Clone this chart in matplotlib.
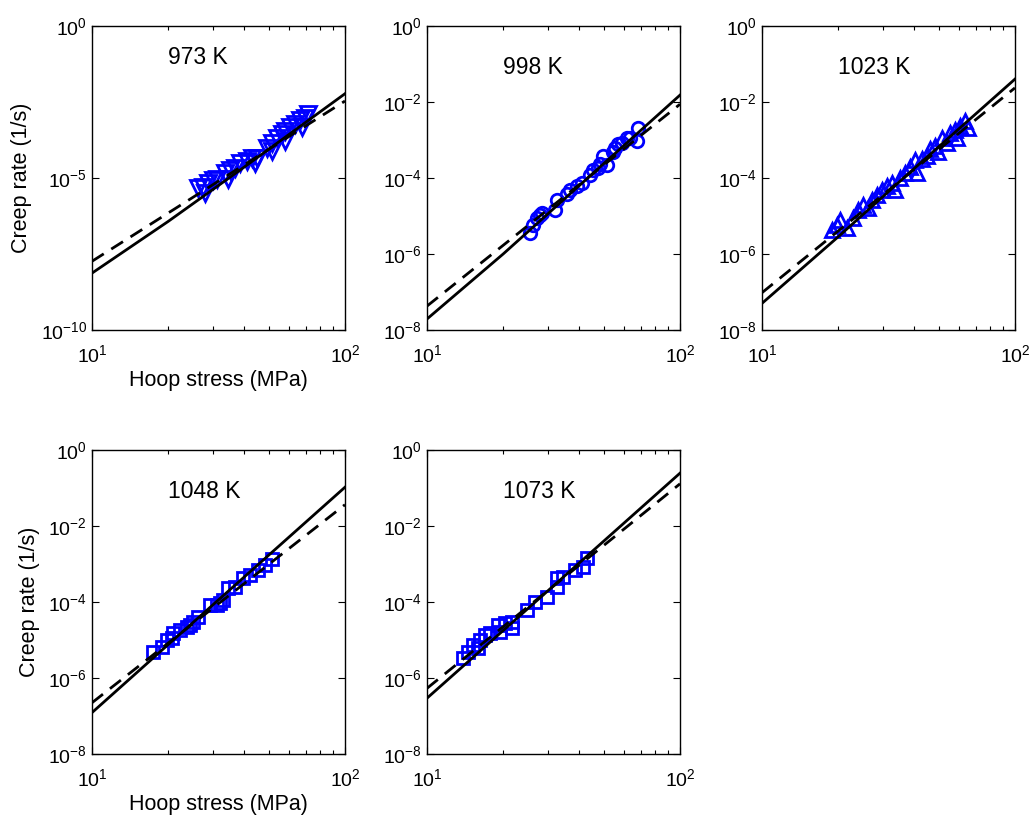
import numpy as np
import matplotlib
matplotlib.use('Agg')
from matplotlib import pyplot as plt
from matplotlib import ticker

plt.rcParams['font.family'] = ['Liberation Sans', 'DejaVu Sans']
plt.rcParams['mathtext.fontset'] = 'custom'
plt.rcParams['mathtext.rm'] = 'Liberation Sans'
plt.rcParams['mathtext.default'] = 'regular'

# ---- data (stress in MPa, creep rate in 1/s) ----
temps = ['973 K', '998 K', '1023 K', '1048 K', '1073 K']
markers = ['v', 'o', '^', 's', 's']

s973 = [26.2, 27.5, 28.7, 30.1, 31.2, 33.6, 35.1, 36.7, 38.5, 41.0, 42.9, 44.9, 49.2,
        51.5, 53.8, 56.4, 57.9, 60.7, 63.5, 66.4, 69.5, 71.5,
        28.0, 34.5, 44.0, 51.5, 57.9, 67.6]
e973 = [-5.34, -5.31, -5.18, -5.08, -5.02, -4.85, -4.75, -4.66, -4.52, -4.43, -4.33, -4.33, -4.00,
        -3.84, -3.70, -3.54, -3.44, -3.34, -3.21, -3.11, -3.02, -2.89,
        -5.48, -5.02, -4.52, -4.10, -3.77, -3.34]

s998 = [25.5, 26.2, 27.2, 28.0, 28.5, 32.1, 32.7, 35.7, 36.7, 39.2, 41.0, 44.1, 45.3,
        47.4, 48.3, 49.7, 51.5, 54.3, 55.3, 56.9, 59.0, 61.8, 63.5, 67.6, 68.2]
e998 = [-5.46, -5.25, -5.06, -4.98, -4.93, -4.85, -4.59, -4.41, -4.33, -4.20, -4.14, -3.93, -3.80,
        -3.75, -3.62, -3.41, -3.67, -3.33, -3.20, -3.10, -3.07, -2.96, -2.94, -3.02, -2.68]

s1023 = [18.9, 19.8, 20.3, 21.7, 22.9, 23.9, 25.1, 26.2, 27.2, 28.5, 29.8, 31.2, 32.7, 33.6,
         35.1, 36.7, 38.5, 40.3, 41.0, 42.9, 44.9, 46.1, 48.3, 49.7, 51.5, 53.8, 55.3, 57.9,
         59.0, 60.7, 63.5, 65.2]
e1023 = [-5.38, -5.25, -5.11, -5.32, -5.06, -4.85, -4.72, -4.80, -4.59, -4.46, -4.33, -4.20, -4.12, -4.33,
         -3.99, -3.86, -3.72, -3.54, -3.88, -3.49, -3.41, -3.23, -3.15, -3.33, -2.94, -3.07, -2.83, -2.75,
         -2.94, -2.62, -2.49, -2.68]

s1048 = [17.4, 18.9, 19.8, 20.7, 20.9, 22.3, 23.7, 24.4, 25.1, 26.2, 29.3, 31.2, 32.1, 33.0,
         34.5, 36.7, 39.5, 42.2, 45.3, 48.3, 51.5]
e1048 = [-5.32, -5.18, -5.00, -4.95, -4.82, -4.74, -4.66, -4.61, -4.53, -4.39, -4.08, -4.08, -4.03, -3.95,
         -3.63, -3.61, -3.37, -3.29, -3.16, -3.03, -2.87]

s1073 = [13.9, 14.5, 15.2, 15.9, 16.2, 16.9, 17.7, 19.1, 19.5, 20.3, 21.7, 21.7, 24.8, 26.7,
         29.8, 32.7, 32.7, 34.5, 38.5, 41.4, 42.9]
e1073 = [-5.47, -5.32, -5.13, -5.21, -5.00, -4.87, -4.82, -4.61, -4.79, -4.55, -4.53, -4.68, -4.21, -4.00,
         -3.87, -3.61, -3.37, -3.34, -3.16, -3.08, -2.84]

stress = [s973, s998, s1023, s1048, s1073]
lograte = [e973, e998, e1023, e1048, e1073]

# model curves (log10 of rate), read at stress = 10, 20, 40, 100 MPa
fit_s = [10, 20, 40, 100]
solid_fit = [[-8.13, -6.43, -4.64, -2.23],
             [-7.71, -6.00, -4.20, -1.82],
             [-7.30, -5.55, -3.75, -1.40],
             [-6.91, -5.12, -3.34, -0.98],
             [-6.53, -4.75, -2.97, -0.61]]
dash_s = [10, 100]
dash_fit = [[-7.74, -2.47],
            [-7.37, -2.06],
            [-7.02, -1.63],
            [-6.65, -1.44],
            [-6.27, -0.89]]

ylims = [(1e-10, 1e0), (1e-8, 1e0), (1e-8, 1e0), (1e-8, 1e0), (1e-8, 1e0)]
yticks = [[1e-10, 1e-5, 1e0]] + [[1e-8, 1e-6, 1e-4, 1e-2, 1e0]] * 4
msizes = [11, 9, 10.5, 8, 8]
label_y = [0.895, 0.862, 0.862, 0.865, 0.865]

fig = plt.figure(figsize=(10.35, 8.18), dpi=100)
lefts = [0.0889, 0.4126, 0.7362, 0.0889, 0.4126]
bottoms = [0.5966, 0.5966, 0.5966, 0.0782, 0.0782]
w, h = 0.2444, 0.3717

for i in range(5):
    ax = fig.add_axes([lefts[i], bottoms[i], w, h])
    ax.set_xscale('log')
    ax.set_yscale('log')
    ax.plot(stress[i], 10.0 ** np.array(lograte[i]), linestyle='none', marker=markers[i],
            ms=msizes[i], mfc='none', mec=(0, 0, 1), mew=2)
    ax.plot(fit_s, 10.0 ** np.array(solid_fit[i]), '-', color='k', lw=2)
    ax.plot(dash_s, 10.0 ** np.array(dash_fit[i]), '--', color='k', lw=2, dashes=(5, 3.2))
    ax.set_xlim(10, 100)
    ax.set_ylim(*ylims[i])
    ax.set_yticks(yticks[i])
    ax.yaxis.set_minor_locator(ticker.NullLocator())
    ax.set_xticks([10, 100])
    ax.xaxis.set_minor_formatter(ticker.NullFormatter())
    ax.tick_params(which='both', direction='in', top=True, right=True, labelsize=14)
    ax.tick_params(axis='x', which='major', pad=10)
    ax.tick_params(which='major', length=5, width=0.8)
    ax.tick_params(which='minor', length=3, width=0.8)
    for sp in ax.spines.values():
        sp.set_linewidth(1.0)
    ax.text(0.30, label_y[i], temps[i], transform=ax.transAxes, fontsize=16.5, ha='left', va='center')
    if i in (0, 3):
        ax.set_ylabel('Creep rate (1/s)', fontsize=15.5, labelpad=6)
        ax.set_xlabel('Hoop stress (MPa)', fontsize=15.5, labelpad=3)

fig.savefig('out.png', dpi=100)
